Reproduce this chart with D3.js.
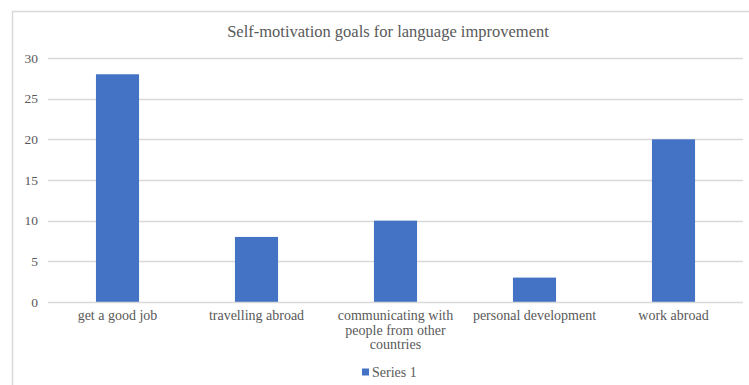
<!DOCTYPE html>
<html>
<head>
<meta charset="utf-8">
<script src="https://cdn.jsdelivr.net/npm/d3@7"></script>
<style>
  html, body { margin: 0; padding: 0; background: #fff; }
  svg { display: block; }
  svg text { font-family: "Liberation Serif", "Times New Roman", Times, serif; }
</style>
</head>
<body>
<script>
const categories = ["get a good job", "travelling abroad", "communicating with people from other countries", "personal development", "work abroad"];
const categoryLines = [["get a good job"], ["travelling abroad"], ["communicating with", "people from other", "countries"], ["personal development"], ["work abroad"]];
const series1 = [28, 8, 10, 3, 20];
const yTicks = [0, 5, 10, 15, 20, 25, 30];
const title = "Self-motivation goals for language improvement";
const seriesName = "Series 1";

const W = 749, H = 385;
const svg = d3.select("body").append("svg").attr("width", W).attr("height", H);
const textColor = "#595959";

// frame
svg.append("rect").attr("x", 12.5).attr("y", 11.5).attr("width", W + 10).attr("height", H + 10)
  .attr("fill", "#fff").attr("stroke", "#d9d9d9").attr("stroke-width", 1.5);

const x = d3.scaleBand().domain(categories).range([48, 743]).paddingInner(0.69).paddingOuter(0.345);
const y = d3.scaleLinear().domain([0, 30]).range([302, 58]);

// gridlines
svg.append("g").selectAll("line").data(yTicks.filter(d => d !== 0)).join("line")
  .attr("x1", 48).attr("x2", 743)
  .attr("y1", d => Math.round(y(d)) + 0.5).attr("y2", d => Math.round(y(d)) + 0.5)
  .attr("stroke", "#d9d9d9").attr("stroke-width", 1.5);

// y axis labels
const yAxis = d3.axisLeft(y).tickValues(yTicks).tickSize(0).tickPadding(0);
const gy = svg.append("g").attr("transform", "translate(38,0)").call(yAxis);
gy.select(".domain").remove();
gy.attr("font-family", null).attr("font-size", null);
gy.selectAll("text").attr("font-size", 13.5).attr("fill", textColor);

// bars
svg.append("g").selectAll("rect").data(series1).join("rect")
  .attr("x", (d, i) => x(categories[i]))
  .attr("width", x.bandwidth())
  .attr("y", d => y(d))
  .attr("height", d => y(0) - y(d))
  .attr("fill", "#4472c4");

// x axis baseline
svg.append("line").attr("x1", 48).attr("x2", 743).attr("y1", 302.5).attr("y2", 302.5)
  .attr("stroke", "#d9d9d9").attr("stroke-width", 1.5);

// x axis labels
const xAxis = d3.axisBottom(x).tickSize(0).tickFormat(() => "");
const gx = svg.append("g").attr("transform", "translate(0,302)").call(xAxis);
gx.select(".domain").remove();
gx.attr("font-family", null).attr("font-size", null);
gx.selectAll(".tick").each(function(d, i) {
  const t = d3.select(this).select("text").text(null)
    .attr("font-size", 14).attr("fill", textColor)
    .attr("text-anchor", "middle").attr("y", 0).attr("dy", null);
  categoryLines[i].forEach((line, j) => {
    t.append("tspan").attr("x", 0).attr("y", 18 + j * 14.5).text(line);
  });
});

// title
svg.append("text").attr("x", 388).attr("y", 37).attr("text-anchor", "middle")
  .attr("font-size", 16.5).attr("fill", textColor).text(title);

// legend
const lg = svg.append("g");
lg.append("rect").attr("x", 362).attr("y", 368.5).attr("width", 7).attr("height", 7).attr("fill", "#4472c4");
lg.append("text").attr("x", 372).attr("y", 377).attr("font-size", 14)
  .attr("fill", textColor).text(seriesName);
</script>
</body>
</html>
